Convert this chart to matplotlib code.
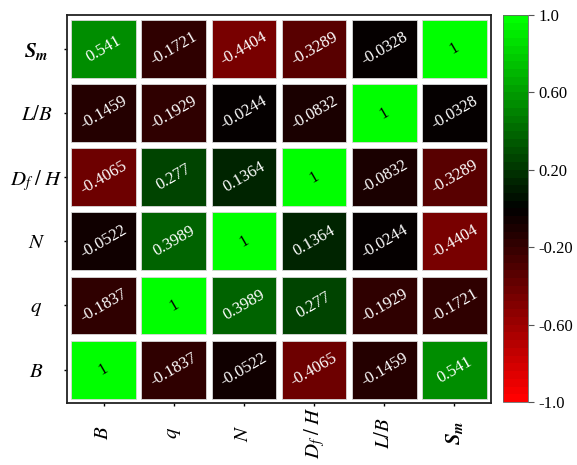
import numpy as np
import matplotlib
matplotlib.use("Agg")
import matplotlib.pyplot as plt
from matplotlib.colors import LinearSegmentedColormap, Normalize
from matplotlib.patches import Rectangle
from matplotlib.colorbar import ColorbarBase

plt.rcParams['mathtext.fontset'] = 'stix'
plt.rcParams['font.family'] = ['Liberation Serif', 'DejaVu Serif']

# Variables in matrix order (bottom-to-top rows, left-to-right columns)
labels = [r'$B$', r'$q$', r'$N$', r'$D_f\;/\;H$', r'$L/B$', r'$\mathbfit{S_m}$']

row_B = [1, -0.1837, -0.0522, -0.4065, -0.1459, 0.541]
row_q = [-0.1837, 1, 0.3989, 0.277, -0.1929, -0.1721]
row_N = [-0.0522, 0.3989, 1, 0.1364, -0.0244, -0.4404]
row_DfH = [-0.4065, 0.277, 0.1364, 1, -0.0832, -0.3289]
row_LB = [-0.1459, -0.1929, -0.0244, -0.0832, 1, -0.0328]
row_Sm = [0.541, -0.1721, -0.4404, -0.3289, -0.0328, 1]

corr = np.array([row_B, row_q, row_N, row_DfH, row_LB, row_Sm])

cbar_ticks = [-1.0, -0.6, -0.2, 0.2, 0.6, 1.0]
cbar_ticklabels = ['-1.0', '-0.60', '-0.20', '0.20', '0.60', '1.0']

cmap = LinearSegmentedColormap.from_list(
    'rkg', [(1, 0, 0), (0, 0, 0), (0, 1, 0)], N=50)
norm = Normalize(vmin=-1, vmax=1)

W, H = 577, 465
fig = plt.figure(figsize=(W / 100, H / 100), dpi=100)
ax = fig.add_axes([67 / W, (H - 403) / H, 424 / W, 387.5 / H])

n = len(labels)
cw, ch = 0.92, 0.90
for i in range(n):
    for j in range(n):
        v = corr[i, j]
        ax.add_patch(Rectangle((j - cw / 2, i - ch / 2), cw, ch,
                               facecolor=cmap(norm(v)),
                               edgecolor='#d8d8d8', linewidth=0.6))
        txt_color = 'black' if v == 1 else 'white'
        ax.text(j, i, f'{v:g}', ha='center', va='center', rotation=30,
                rotation_mode='anchor', color=txt_color, fontsize=12,
                family='Liberation Serif')

ax.set_xlim(-0.52, n - 0.48)
ax.set_ylim(-0.52, n - 0.48)
ax.set_xticks(range(n))
ax.set_yticks(range(n))
ax.set_xticklabels(labels, rotation=90, fontsize=15, va='center')
ax.set_yticklabels(labels, fontsize=15, ha='center')
ax.tick_params(direction='out', length=2.5, width=1)
ax.tick_params(axis='x', pad=19)
ax.tick_params(axis='y', pad=19.5)
for s in ax.spines.values():
    s.set_linewidth(1.3)
    s.set_color('#222222')

cax = fig.add_axes([503 / W, (H - 402) / H, 25 / W, 387 / H])
cb = ColorbarBase(cax, cmap=cmap, norm=norm, orientation='vertical')
cb.set_ticks(cbar_ticks)
cb.set_ticklabels(cbar_ticklabels)
cb.ax.tick_params(labelsize=12, length=4, width=0.8, color='#555555')
cb.outline.set_linewidth(0.6)
cb.outline.set_edgecolor('#666666')

fig.savefig('out.png', dpi=100)
